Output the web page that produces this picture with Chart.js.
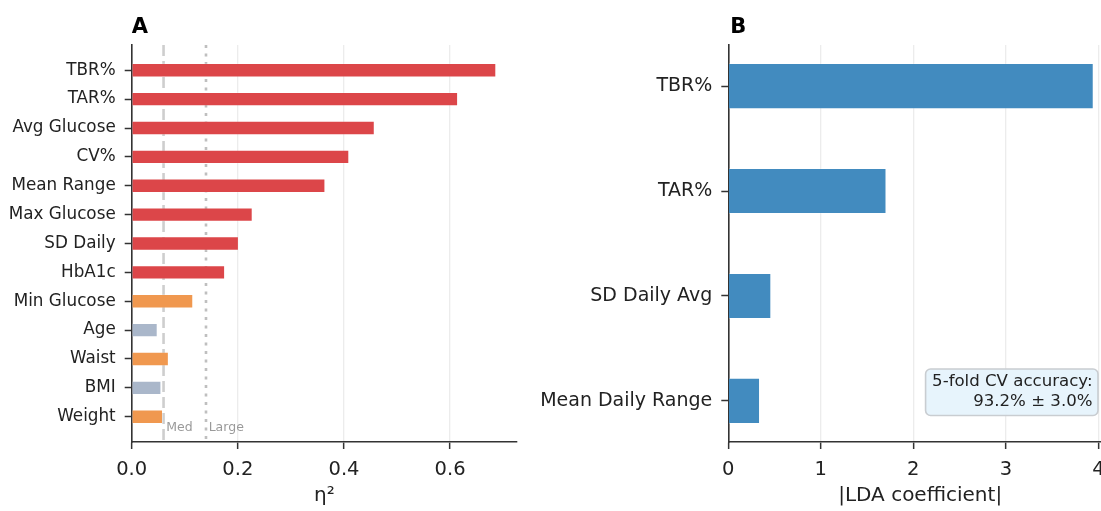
<!DOCTYPE html>
<html>
<head>
<meta charset="utf-8">
<script src="https://cdn.jsdelivr.net/npm/chart.js@4.4.1/dist/chart.umd.min.js"></script>
<style>
  html, body { margin: 0; padding: 0; background: #fff; }
  body { position: relative; width: 1101px; height: 511px; overflow: hidden; }
  #panelA { position: absolute; left: 0; top: 0; }
  #panelB { position: absolute; left: 530px; top: 0; }
</style>
</head>
<body>
<canvas id="panelA" width="540" height="511"></canvas>
<canvas id="panelB" width="600" height="511"></canvas>
<script>
// ---- Panel A: effect sizes (eta squared) per feature ----
const effectLabels = ['TBR%', 'TAR%', 'Avg Glucose', 'CV%', 'Mean Range', 'Max Glucose',
  'SD Daily', 'HbA1c', 'Min Glucose', 'Age', 'Waist', 'BMI', 'Weight'];
const etaSquared = [0.687, 0.615, 0.458, 0.410, 0.365, 0.228, 0.202, 0.176, 0.116, 0.049, 0.070, 0.056, 0.059];
const effectGroup = ['large', 'large', 'large', 'large', 'large', 'large', 'large', 'large',
  'medium', 'small', 'medium', 'small', 'medium'];
const etaTicks = [0.0, 0.2, 0.4, 0.6];
const thresholdValues = [0.06, 0.14];
const thresholdLabels = ['Med', 'Large'];

// ---- Panel B: LDA coefficient magnitudes ----
const ldaLabels = ['TBR%', 'TAR%', 'SD Daily Avg', 'Mean Daily Range'];
const ldaCoef = [3.95, 1.71, 0.465, 0.343];
const ldaTicks = [0, 1, 2, 3, 4];
const cvAccuracy = 93.2;
const cvAccuracySd = 3.0;

const groupColors = { large: '#dc4649', medium: '#f0984f', small: '#aab7ca' };
const ldaColor = '#428bbf';

Chart.defaults.font.family = "'DejaVu Sans', sans-serif";
Chart.defaults.color = '#222222';

const AXIS = '#333333';
const GRID = '#ececec';

function panelTitle(letter, dx) {
  return {
    id: 'panelTitle' + letter,
    afterDraw(chart) {
      const ctx = chart.ctx;
      ctx.save();
      ctx.font = "bold 21px 'DejaVu Sans', sans-serif";
      ctx.fillStyle = '#000';
      ctx.textAlign = 'left';
      ctx.textBaseline = 'alphabetic';
      ctx.fillText(letter, chart.chartArea.left + dx, 33);
      ctx.restore();
    }
  };
}

// dashed / dotted effect-size reference lines drawn beneath the bars
const thresholdLines = {
  id: 'thresholdLines',
  beforeDatasetsDraw(chart) {
    const { ctx, chartArea, scales } = chart;
    const dashes = [[11, 5], [3, 5.5]];
    ctx.save();
    thresholdValues.forEach((v, i) => {
      const x = scales.x.getPixelForValue(v);
      ctx.beginPath();
      ctx.setLineDash(dashes[i]);
      ctx.lineWidth = 2.6;
      ctx.strokeStyle = i === 0 ? 'rgba(190,190,190,0.75)' : 'rgba(170,170,170,0.75)';
      ctx.moveTo(x, chartArea.top);
      ctx.lineTo(x, chartArea.bottom);
      ctx.stroke();
    });
    ctx.setLineDash([]);
    ctx.font = "12.5px 'DejaVu Sans', sans-serif";
    ctx.fillStyle = '#9a9a9a';
    ctx.textAlign = 'left';
    ctx.textBaseline = 'alphabetic';
    thresholdValues.forEach((v, i) => {
      ctx.fillText(thresholdLabels[i], scales.x.getPixelForValue(v + 0.005),
        scales.y.getPixelForValue(effectLabels.length - 0.5));
    });
    ctx.restore();
  }
};

// cross-validation accuracy box in the lower right of panel B
const accuracyBox = {
  id: 'accuracyBox',
  afterDatasetsDraw(chart) {
    const { ctx, chartArea } = chart;
    const lines = ['5-fold CV accuracy:', cvAccuracy.toFixed(1) + '% \u00b1 ' + cvAccuracySd.toFixed(1) + '%'];
    const right = chartArea.right - 19.5;
    const y2 = chartArea.bottom - 40;
    const lh = 20;
    ctx.save();
    ctx.font = "16.6px 'DejaVu Sans', sans-serif";
    const w = Math.max(...lines.map(t => ctx.measureText(t).width));
    const bx = right - w - 6.5, by = y2 - lh - 13, bw = w + 12, bh = lh + 26.5;
    ctx.beginPath();
    ctx.roundRect(bx, by, bw, bh, 5);
    ctx.fillStyle = 'rgba(230,243,252,0.95)';
    ctx.fill();
    ctx.lineWidth = 1.6;
    ctx.strokeStyle = '#c9cdd1';
    ctx.stroke();
    ctx.fillStyle = '#222222';
    ctx.textAlign = 'right';
    ctx.textBaseline = 'middle';
    ctx.fillText(lines[0], right, y2 - lh);
    ctx.fillText(lines[1], right, y2);
    ctx.restore();
  }
};

function xAxis(min, max, ticks, fmt, title) {
  return {
    type: 'linear',
    position: 'bottom',
    min: min,
    max: max,
    bounds: 'data',
    offset: false,
    afterBuildTicks: (s) => { s.ticks = ticks.map(v => ({ value: v })); },
    afterFit: (s) => { s.height = 69; },
    grid: { color: GRID, lineWidth: 1.3, drawOnChartArea: true, drawTicks: true, offset: false,
            tickLength: 7, tickColor: AXIS, tickWidth: 1.5 },
    border: { display: true, color: AXIS, width: 1.6 },
    ticks: { font: { size: 19.5 }, padding: 9, autoSkip: false, maxRotation: 0,
             callback: (v) => fmt(v) },
    title: { display: true, text: title, font: { size: 20 }, padding: { top: 0, bottom: 3 } }
  };
}

function yAxis(labels, span, width, fontSize) {
  return {
    type: 'linear',
    position: 'left',
    reverse: true,
    min: -span,
    max: labels.length - 1 + span,
    bounds: 'data',
    offset: false,
    afterBuildTicks: (s) => { s.ticks = labels.map((_, i) => ({ value: i })); },
    afterFit: (s) => { s.width = width; },
    grid: { drawOnChartArea: false, drawTicks: true, offset: false,
            tickLength: 7, tickColor: AXIS, tickWidth: 1.5 },
    border: { display: true, color: AXIS, width: 1.6 },
    ticks: { font: { size: fontSize }, padding: 9, autoSkip: false,
             callback: (v) => labels[v] }
  };
}

new Chart(document.getElementById('panelA'), {
  type: 'bar',
  data: {
    datasets: [{
      data: etaSquared.map((v, i) => ({ x: v, y: i })),
      backgroundColor: effectGroup.map(g => groupColors[g]),
      borderColor: 'rgba(255,255,255,0.2)',
      borderWidth: 1,
      barPercentage: 0.5,
      categoryPercentage: 1.0
    }]
  },
  options: {
    indexAxis: 'y',
    responsive: false,
    animation: false,
    layout: { padding: { top: 45, right: 23, left: 0, bottom: 0 } },
    plugins: { legend: { display: false }, tooltip: { enabled: false }, title: { display: false } },
    scales: {
      x: xAxis(0, 0.726, etaTicks, v => v.toFixed(1), '\u03b7\u00b2'),
      y: yAxis(effectLabels, 0.875, 131.7, 16.8)
    }
  },
  plugins: [thresholdLines, panelTitle('A', 0)]
});

new Chart(document.getElementById('panelB'), {
  type: 'bar',
  data: {
    datasets: [{
      data: ldaCoef.map((v, i) => ({ x: v, y: i })),
      backgroundColor: ldaColor,
      borderColor: 'rgba(255,255,255,0.2)',
      borderWidth: 1,
      barPercentage: 0.44,
      categoryPercentage: 1.0
    }]
  },
  options: {
    indexAxis: 'y',
    responsive: false,
    animation: false,
    layout: { padding: { top: 45, right: 18, left: 0, bottom: 0 } },
    plugins: { legend: { display: false }, tooltip: { enabled: false }, title: { display: false } },
    scales: {
      x: xAxis(0, 4.1475, ldaTicks, v => String(v), '|LDA coefficient|'),
      y: yAxis(ldaLabels, 0.392, 198.3, 19)
    }
  },
  plugins: [accuracyBox, panelTitle('B', 2)]
});
</script>
</body>
</html>
